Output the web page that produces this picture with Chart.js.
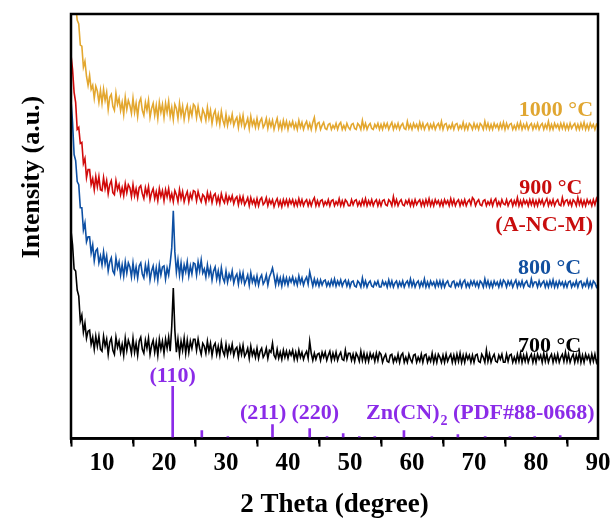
<!DOCTYPE html>
<html>
<head>
<meta charset="utf-8">
<script src="https://cdn.jsdelivr.net/npm/chart.js@4/dist/chart.umd.min.js"></script>
<style>
  html, body { margin: 0; padding: 0; background: #fff; }
  #wrap { width: 614px; height: 527px; }
</style>
</head>
<body>
<div id="wrap"><canvas id="xrd"></canvas></div>
<script>
/* XRD patterns of the carbonised samples, with the Zn(CN)2 reference sticks */

const FONT = "'Liberation Serif', 'Times New Roman', serif";

// scan: 2 theta from 5 to 90 degree, 0.25 step; one row below = 5 degree
const SCAN_START = 5;
const SCAN_STEP = 0.25;

// stacked intensities (a.u., offset already included)
const I_1000 = [
  470, 450, 437, 432, 417, 413, 392, 391, 370, 376, 361, 352, 362, 348, 352, 339, 351, 346, 335, 347, // 5
  334, 348, 337, 345, 328, 340, 343, 331, 327, 344, 333, 339, 327, 335, 323, 340, 328, 337, 332, 324, // 10
  339, 325, 334, 321, 335, 339, 327, 322, 335, 327, 337, 320, 329, 334, 322, 332, 319, 335, 325, 333, // 15
  320, 334, 325, 336, 321, 330, 318, 333, 329, 319, 334, 322, 331, 318, 327, 332, 319, 329, 322, 333, // 20
  331, 320, 331, 322, 317, 328, 324, 317, 330, 319, 327, 314, 323, 327, 315, 323, 313, 326, 317, 312, // 25
  323, 312, 320, 315, 323, 312, 317, 320, 310, 321, 313, 322, 310, 314, 319, 309, 321, 312, 317, 310, // 30
  319, 310, 316, 319, 310, 313, 319, 309, 317, 311, 317, 308, 314, 319, 309, 315, 308, 317, 310, 316, // 35
  308, 315, 311, 316, 309, 314, 308, 317, 310, 315, 308, 313, 316, 309, 314, 308, 315, 320, 308, 314, // 40
  315, 308, 312, 315, 309, 308, 313, 314, 308, 312, 309, 314, 308, 313, 315, 308, 312, 308, 314, 310, // 45
  308, 313, 314, 309, 308, 314, 312, 308, 317, 309, 314, 308, 312, 314, 309, 308, 313, 310, 314, 308, // 50
  313, 308, 314, 310, 314, 308, 312, 315, 308, 313, 309, 314, 308, 312, 314, 309, 308, 316, 309, 313, // 55
  308, 314, 310, 313, 308, 315, 309, 314, 308, 312, 314, 308, 313, 309, 314, 308, 312, 314, 309, 316, // 60
  308, 313, 314, 308, 312, 309, 314, 308, 313, 314, 308, 312, 309, 315, 308, 313, 308, 314, 312, 308, // 65
  314, 309, 313, 308, 314, 312, 308, 316, 309, 314, 308, 313, 308, 314, 310, 313, 308, 314, 309, 315, // 70
  308, 314, 309, 313, 314, 308, 312, 308, 314, 309, 315, 308, 313, 309, 314, 308, 312, 314, 308, 313, // 75
  309, 314, 308, 312, 314, 308, 313, 309, 316, 308, 313, 308, 314, 310, 313, 308, 314, 309, 314, 308, // 80
  313, 308, 314, 309, 312, 314, 308, 313, 308, 314, 309, 315, 308, 313, 308, 314, 310, 313, 308, 313, // 85
  311
];

const I_900 = [
  382, 368, 345, 335, 308, 310, 294, 295, 274, 279, 260, 268, 268, 253, 259, 248, 261, 251, 261, 248, // 5
  247, 260, 249, 257, 244, 253, 257, 245, 243, 257, 248, 253, 243, 250, 242, 254, 245, 253, 250, 241, // 10
  253, 242, 249, 240, 250, 252, 244, 239, 250, 243, 251, 238, 245, 249, 239, 246, 237, 249, 241, 247, // 15
  237, 248, 241, 249, 238, 244, 236, 247, 243, 236, 248, 239, 246, 236, 242, 246, 236, 244, 239, 247, // 20
  246, 237, 246, 240, 236, 243, 241, 235, 245, 238, 244, 235, 242, 244, 235, 241, 234, 244, 238, 235, // 25
  243, 235, 241, 237, 242, 234, 239, 241, 233, 241, 235, 241, 233, 236, 240, 232, 240, 234, 238, 232, // 30
  239, 232, 238, 240, 233, 235, 240, 232, 238, 234, 238, 231, 236, 239, 232, 237, 231, 238, 233, 238, // 35
  232, 238, 234, 238, 232, 237, 232, 239, 233, 238, 232, 236, 238, 232, 237, 232, 237, 240, 232, 237, // 40
  232, 237, 238, 232, 236, 233, 238, 232, 237, 238, 232, 236, 233, 239, 232, 237, 232, 238, 236, 232, // 45
  232, 238, 233, 237, 238, 232, 236, 232, 238, 233, 239, 232, 237, 233, 238, 232, 236, 238, 232, 237, // 50
  232, 237, 238, 233, 232, 238, 236, 232, 241, 233, 238, 232, 236, 238, 233, 232, 237, 234, 238, 232, // 55
  237, 232, 238, 233, 236, 238, 232, 237, 232, 238, 233, 239, 232, 237, 232, 238, 234, 237, 232, 237, // 60
  232, 238, 234, 237, 232, 239, 233, 238, 232, 236, 238, 232, 237, 233, 238, 232, 236, 238, 233, 240, // 65
  238, 232, 236, 238, 233, 232, 237, 238, 232, 236, 233, 238, 232, 237, 239, 232, 236, 232, 238, 234, // 70
  233, 238, 232, 236, 238, 232, 237, 233, 240, 232, 237, 232, 238, 234, 237, 232, 238, 233, 238, 232, // 75
  237, 232, 238, 234, 238, 232, 236, 239, 232, 237, 233, 238, 232, 236, 238, 233, 232, 240, 233, 237, // 80
  238, 233, 237, 232, 238, 236, 232, 240, 233, 238, 232, 237, 232, 238, 234, 237, 232, 238, 233, 239, // 85
  235
];

const I_800 = [
  337, 315, 283, 277, 256, 253, 230, 230, 208, 215, 196, 201, 201, 185, 193, 177, 187, 189, 175, 182, // 5
  173, 186, 174, 182, 167, 176, 180, 167, 164, 180, 170, 176, 163, 173, 162, 176, 165, 175, 171, 161, // 10
  175, 162, 171, 160, 172, 175, 164, 160, 173, 164, 174, 158, 167, 172, 160, 170, 158, 173, 163, 171, // 15
  172, 159, 170, 163, 175, 190, 227, 186, 166, 178, 163, 175, 161, 173, 166, 176, 162, 172, 164, 175, // 20
  174, 163, 176, 167, 178, 165, 169, 161, 173, 163, 170, 158, 167, 171, 159, 167, 157, 170, 160, 156, // 25
  167, 156, 164, 159, 167, 155, 161, 164, 154, 165, 157, 165, 154, 158, 163, 153, 165, 156, 161, 154, // 30
  162, 153, 160, 163, 154, 157, 163, 153, 161, 165, 170, 162, 153, 162, 154, 160, 152, 161, 154, 160, // 35
  153, 160, 156, 161, 154, 159, 153, 162, 155, 160, 153, 158, 161, 154, 166, 159, 152, 159, 153, 158, // 40
  152, 158, 153, 157, 158, 152, 156, 152, 158, 153, 159, 152, 157, 153, 158, 152, 156, 158, 152, 157, // 45
  151, 156, 157, 152, 151, 157, 155, 151, 160, 152, 157, 151, 155, 157, 152, 151, 156, 153, 157, 151, // 50
  151, 157, 153, 156, 151, 158, 152, 157, 151, 155, 157, 151, 156, 152, 157, 151, 155, 157, 152, 159, // 55
  152, 157, 151, 155, 157, 151, 156, 152, 159, 151, 156, 151, 157, 153, 156, 151, 157, 152, 157, 151, // 60
  157, 151, 155, 157, 152, 151, 156, 157, 151, 155, 152, 157, 151, 156, 158, 151, 155, 151, 157, 153, // 65
  157, 152, 156, 151, 157, 155, 151, 159, 152, 157, 151, 156, 151, 157, 153, 156, 151, 157, 152, 158, // 70
  156, 151, 157, 153, 157, 151, 155, 158, 151, 156, 152, 157, 151, 155, 157, 152, 151, 159, 152, 156, // 75
  156, 151, 157, 152, 155, 157, 151, 156, 151, 157, 152, 158, 151, 156, 151, 157, 153, 156, 151, 156, // 80
  151, 156, 157, 151, 155, 152, 157, 151, 156, 157, 151, 155, 152, 158, 151, 156, 151, 157, 155, 151, // 85
  154
];

const I_700 = [
  207, 193, 169, 167, 148, 142, 117, 123, 106, 115, 100, 107, 108, 94, 101, 89, 102, 92, 102, 89, // 5
  87, 102, 92, 99, 84, 96, 100, 88, 84, 101, 91, 97, 86, 94, 83, 100, 88, 98, 93, 85, // 10
  100, 86, 95, 83, 97, 101, 89, 85, 98, 90, 100, 84, 93, 98, 86, 96, 83, 99, 89, 97, // 15
  85, 99, 90, 101, 87, 112, 150, 108, 86, 99, 84, 97, 88, 100, 85, 98, 86, 97, 90, 99, // 20
  99, 88, 99, 90, 84, 95, 92, 85, 97, 87, 95, 83, 92, 95, 84, 92, 83, 96, 87, 83, // 25
  94, 83, 92, 86, 94, 83, 89, 91, 81, 92, 84, 93, 82, 85, 90, 80, 92, 83, 88, 81, // 30
  90, 80, 87, 90, 81, 84, 90, 80, 88, 86, 95, 83, 80, 89, 80, 86, 79, 88, 81, 87, // 35
  80, 87, 83, 88, 79, 86, 79, 88, 81, 86, 79, 84, 87, 80, 97, 85, 78, 85, 79, 84, // 40
  85, 78, 86, 81, 86, 78, 83, 87, 78, 85, 79, 86, 78, 83, 86, 79, 78, 88, 79, 85, // 45
  85, 78, 84, 77, 85, 82, 77, 87, 78, 85, 77, 84, 77, 85, 80, 84, 77, 85, 78, 86, // 50
  84, 76, 81, 84, 77, 76, 83, 84, 76, 81, 77, 84, 76, 83, 85, 76, 81, 76, 84, 79, // 55
  76, 83, 84, 76, 81, 77, 84, 76, 83, 84, 76, 81, 77, 85, 76, 83, 76, 84, 81, 76, // 60
  83, 76, 84, 77, 81, 84, 76, 83, 76, 84, 77, 85, 76, 83, 76, 84, 79, 83, 76, 83, // 65
  76, 83, 84, 77, 76, 84, 81, 76, 88, 77, 84, 76, 81, 84, 77, 76, 83, 79, 84, 76, // 70
  76, 84, 77, 83, 84, 76, 81, 76, 84, 77, 85, 76, 83, 77, 84, 76, 81, 84, 76, 83, // 75
  76, 84, 79, 83, 76, 85, 77, 84, 76, 81, 84, 76, 83, 77, 84, 76, 81, 84, 77, 86, // 80
  77, 84, 76, 81, 84, 76, 83, 77, 86, 76, 83, 76, 84, 79, 83, 76, 84, 77, 84, 76, // 85
  80
];

// Zn(CN)2 reference, PDF#88-0668
const PDF_POS = [21.4, 26.1, 30.3, 37.5, 43.5, 46.3, 48.9, 51.5, 54.0, 58.7, 63.2, 67.4, 71.8, 75.8, 79.8, 83.9];
const PDF_INT = [52, 8, 2, 14, 10, 2, 5, 2, 2, 8, 2, 4, 2, 2, 2, 3];

const SERIES = [
  { name: '700 °C',  data: I_700,  color: '#000000' },
  { name: '800 °C',  data: I_800,  color: '#0d4fa3' },
  { name: '900 °C',  data: I_900,  color: '#d10a0a' },
  { name: '1000 °C', data: I_1000, color: '#e3a72f' },
];
const PURPLE = '#8b2be8';

// text labels in data coords: [text, x, y, color, align]
const LABELS = [
  ['1000 °C', 89.2, 327, '#e0a631', 'right'],
  ['900 °C', 87.5, 249, '#c80d0d', 'right'],
  ['(A-NC-M)', 89.2, 212, '#c80d0d', 'right'],
  ['800 °C', 87.3, 170, '#1250a0', 'right'],
  ['700 °C', 87.3, 92, '#000000', 'right'],
  ['(110)', 21.4, 62, PURPLE, 'center'],
  ['(211)', 36.0, 25, PURPLE, 'center'],
  ['(220)', 44.4, 25, PURPLE, 'center'],
];
const MINOR_TICKS = [5, 15, 25, 35, 45, 55, 65, 75, 85];

const datasets = SERIES.map(s => ({
  type: 'line',
  label: s.name,
  data: s.data.map((y, i) => ({ x: SCAN_START + i * SCAN_STEP, y })),
  borderColor: s.color,
  borderWidth: 1.6,
  pointRadius: 0,
  tension: 0,
}));
datasets.push({
  type: 'bar',
  label: 'Zn(CN)2',
  data: PDF_POS.map((x, i) => ({ x, y: PDF_INT[i] })),
  backgroundColor: PURPLE,
  barThickness: 2,
});

const decorPlugin = {
  id: 'decor',
  afterDraw(chart) {
    const { ctx, chartArea: a, scales } = chart;
    const sx = scales.x, sy = scales.y;
    ctx.save();
    // frame
    ctx.strokeStyle = '#000';
    ctx.lineWidth = 2.5;
    ctx.strokeRect(a.left, a.top, a.right - a.left, a.bottom - a.top);
    // minor ticks
    ctx.lineWidth = 2;
    for (const v of MINOR_TICKS) {
      const px = sx.getPixelForValue(v);
      ctx.beginPath();
      ctx.moveTo(px, a.bottom);
      ctx.lineTo(px, a.bottom + 5);
      ctx.stroke();
    }
    // y title
    ctx.fillStyle = '#000';
    ctx.font = `bold 26px ${FONT}`;
    ctx.textAlign = 'center';
    ctx.textBaseline = 'middle';
    ctx.translate(32, 177);
    ctx.rotate(-Math.PI / 2);
    ctx.fillText('Intensity (a.u.)', 0, 0);
    ctx.restore();

    ctx.save();
    ctx.textBaseline = 'middle';
    ctx.font = `bold 22px ${FONT}`;
    for (const [text, x, y, color, align] of LABELS) {
      ctx.fillStyle = color;
      ctx.textAlign = align;
      ctx.fillText(text, sx.getPixelForValue(x), sy.getPixelForValue(y));
    }
    // Zn(CN)2 (PDF#88-0668) with subscript
    ctx.fillStyle = PURPLE;
    ctx.textAlign = 'left';
    let px = sx.getPixelForValue(52.6);
    const py = sy.getPixelForValue(25);
    ctx.fillText('Zn(CN)', px, py);
    px += ctx.measureText('Zn(CN)').width;
    ctx.font = `bold 14px ${FONT}`;
    ctx.fillText('2', px + 1, py + 8);
    px += ctx.measureText('2').width + 1;
    ctx.font = `bold 22px ${FONT}`;
    ctx.fillText(' (PDF#88-0668)', px, py);
    ctx.restore();
  }
};

new Chart(document.getElementById('xrd'), {
  type: 'line',
  data: { datasets },
  plugins: [decorPlugin],
  options: {
    responsive: true,
    maintainAspectRatio: false,
    animation: false,
    events: [],
    layout: { padding: { left: 71, right: 16, top: 14, bottom: 6 } },
    plugins: { legend: { display: false }, tooltip: { enabled: false } },
    scales: {
      x: {
        type: 'linear',
        min: 5,
        max: 90,
        offset: false,
        afterBuildTicks: (scale) => {
          scale.ticks = [10, 20, 30, 40, 50, 60, 70, 80, 90].map(v => ({ value: v }));
        },
        ticks: {
          color: '#000',
          font: { family: FONT, size: 25, weight: 'bold' },
          padding: 2,
          maxRotation: 0,
          autoSkip: false,
        },
        grid: { drawOnChartArea: false, drawTicks: true, tickLength: 8, tickWidth: 2, tickColor: '#000' },
        border: { display: true, color: '#000', width: 2.5 },
        title: {
          display: true,
          text: '2 Theta (degree)',
          color: '#000',
          font: { family: FONT, size: 27, weight: 'bold' },
          padding: { top: 8, bottom: 0 },
        },
      },
      y: {
        type: 'linear',
        display: false,
        min: 0,
        max: 423,
      },
    },
  },
});
</script>
</body>
</html>
